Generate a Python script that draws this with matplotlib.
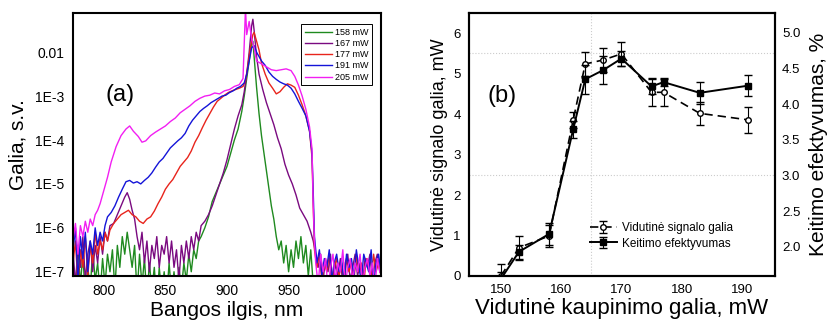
import numpy as np
import matplotlib
matplotlib.use("Agg")
import matplotlib.pyplot as plt

plt.rcParams['font.family'] = ['Liberation Sans', 'DejaVu Sans']

# ---------------- (a) spectra: wavelength (nm) and log10(power, a.u.) ----------------
wl_158 = [775, 777, 779, 781, 783, 785, 787, 789, 791, 793, 795, 797, 799, 801, 803, 805, 807, 809, 811, 813,
          815, 817, 819, 821, 823, 825, 827, 829, 831, 833, 835, 837, 839, 841, 843, 845, 847, 849, 851, 853,
          855, 857, 859, 861, 863, 865, 867, 869, 871, 873, 875, 877, 879, 882, 885, 888, 891, 894, 897, 900,
          903, 906, 909, 912, 914, 916, 918, 920, 921, 922, 924, 926, 928, 930, 932, 934, 936, 938, 940, 942,
          944, 946, 948, 950, 952, 954, 956, 958, 960, 962, 964, 966, 968, 970, 972, 975, 980, 990, 1000, 1010, 1025]
lg_158 = [-6.8, -7.5, -6.4, -7.3, -6.6, -7.6, -6.9, -7.4, -6.5, -7.2, -6.8, -7.5, -6.7, -7.3, -6.6, -7.0, -6.5, -7.4, -6.4, -6.9,
          -6.2, -6.6, -6.1, -6.5, -6.9, -6.4, -7.5, -6.6, -7.3, -6.7, -7.6, -6.8, -7.4, -6.9, -7.7, -6.9, -7.5, -7.0, -7.6, -6.8,
          -7.5, -7.0, -7.6, -6.9, -7.4, -6.8, -7.2, -6.6, -7.0, -6.5, -6.7, -6.3, -6.2, -6.0, -5.75, -5.4, -5.2, -5.0, -4.8, -4.6,
          -4.3, -4.0, -3.75, -3.35, -3.0, -2.6, -2.2, -1.8, -1.75, -2.1, -2.8, -3.4, -3.9, -4.3, -4.7, -5.1, -5.5, -5.8, -6.2, -6.5,
          -6.3, -6.8, -6.4, -7.0, -6.5, -6.9, -6.3, -6.7, -6.2, -6.8, -6.4, -7.1, -6.5, -7.3, -7.6, -7.4, -7.7, -7.6, -7.7, -7.6, -7.7]

wl_167 = [775, 777, 779, 781, 783, 785, 787, 789, 791, 793, 795, 797, 799, 801, 803, 805, 808, 811, 814, 817,
          819, 821, 823, 825, 827, 829, 831, 833, 835, 837, 839, 841, 843, 845, 847, 849, 851, 853, 855, 857,
          859, 861, 863, 865, 867, 869, 871, 873, 875, 877, 879, 882, 885, 888, 891, 894, 897, 900, 903, 906,
          909, 912, 914, 916, 918, 920, 921, 922, 924, 926, 929, 932, 935, 938, 941, 944, 947, 950, 953, 956,
          959, 962, 965, 968, 970, 972, 974, 976, 978, 980, 982, 984, 986, 988, 990, 992, 994, 996, 998, 1000,
          1002, 1004, 1006, 1008, 1010, 1012, 1014, 1016, 1018, 1020, 1022, 1024]
lg_167 = [-6.5, -7.3, -6.4, -6.9, -6.2, -7.2, -6.6, -6.3, -7.0, -6.4, -6.8, -6.2, -6.6, -6.1, -6.3, -5.95, -5.9, -5.7, -5.5, -5.3,
          -5.2, -5.35, -5.6, -5.8, -6.2, -6.5, -6.1, -6.8, -6.3, -7.0, -6.4, -6.7, -6.2, -6.9, -6.4, -6.6, -6.2, -6.8, -6.3, -6.9,
          -6.5, -7.2, -6.4, -6.8, -6.3, -6.7, -6.2, -6.5, -6.1, -6.3, -5.95, -5.85, -5.7, -5.5, -5.25, -5.0, -4.75, -4.45, -4.1, -3.75,
          -3.45, -3.2, -2.9, -2.5, -2.0, -1.4, -1.25, -1.5, -2.1, -2.5, -2.85, -3.15, -3.4, -3.65, -3.95, -4.2, -4.55, -4.8, -5.0, -5.25,
          -5.55, -5.7, -5.85, -6.1, -6.3, -6.6, -6.9, -6.6, -7.2, -6.7, -7.0, -6.6, -7.4, -6.8, -7.1, -6.7, -7.3, -6.8, -6.6, -7.2,
          -6.9, -6.6, -7.1, -6.8, -7.3, -6.7, -6.9, -6.6, -7.2, -6.8, -6.6, -7.0]

wl_177 = [775, 777, 779, 781, 783, 785, 787, 789, 791, 793, 795, 797, 799, 801, 803, 805, 808, 811, 814, 817,
          820, 823, 826, 829, 832, 835, 838, 841, 844, 847, 850, 853, 856, 859, 862, 865, 868, 871, 874, 877,
          880, 883, 886, 889, 892, 895, 898, 901, 904, 907, 910, 913, 915, 917, 919, 921, 922, 924, 926, 928,
          931, 934, 937, 940, 943, 946, 949, 952, 955, 958, 961, 964, 967, 969, 970, 971, 973, 975, 977, 979,
          981, 983, 985, 987, 989, 991, 993, 995, 997, 999, 1001, 1003, 1005, 1007, 1009, 1011, 1013, 1015, 1017, 1019,
          1021, 1023, 1025]
lg_177 = [-6.8, -6.3, -7.3, -6.5, -6.9, -6.2, -7.1, -6.4, -6.8, -6.1, -6.6, -6.3, -6.5, -6.1, -6.3, -6.05, -5.9, -5.8, -5.7, -5.65,
          -5.6, -5.7, -5.75, -5.85, -5.9, -5.8, -5.75, -5.62, -5.45, -5.3, -5.12, -5.0, -4.9, -4.75, -4.6, -4.5, -4.4, -4.25, -4.05, -3.9,
          -3.72, -3.55, -3.4, -3.25, -3.12, -3.05, -2.98, -2.92, -2.88, -2.85, -2.82, -2.78, -2.65, -2.3, -1.9, -1.6, -1.55, -1.75, -1.95, -2.25,
          -2.5, -2.7, -2.82, -2.95, -2.9, -2.8, -2.72, -2.75, -2.8, -2.98, -3.2, -3.45, -3.8, -4.4, -5.5, -6.5, -6.9, -6.6, -7.2, -6.8,
          -7.0, -6.6, -7.3, -6.9, -6.7, -7.1, -6.8, -7.4, -6.7, -7.0, -6.8, -7.2, -6.6, -7.0, -6.8, -7.3, -6.7, -6.9, -7.2, -6.6,
          -7.0, -6.8, -7.1]

wl_191 = [775, 777, 779, 781, 783, 785, 787, 789, 791, 793, 795, 797, 799, 801, 803, 806, 809, 812, 815, 818,
          821, 824, 827, 830, 833, 836, 839, 842, 845, 848, 851, 854, 857, 860, 863, 866, 869, 872, 875, 878,
          881, 884, 887, 890, 893, 896, 899, 902, 905, 908, 911, 914, 916, 918, 920, 922, 924, 926, 928, 931,
          934, 937, 940, 943, 946, 949, 952, 955, 958, 961, 964, 967, 969, 970, 971, 973, 975, 977, 979, 981,
          983, 985, 987, 989, 991, 993, 995, 997, 999, 1001, 1003, 1005, 1007, 1009, 1011, 1013, 1015, 1017, 1019, 1021,
          1023, 1025]
lg_191 = [-6.5, -6.0, -7.2, -6.2, -6.7, -6.1, -7.0, -6.3, -6.6, -6.0, -6.4, -6.1, -6.3, -5.95, -5.75, -5.65, -5.5, -5.3, -5.12, -4.95,
          -4.92, -4.98, -4.95, -5.0, -4.92, -4.85, -4.75, -4.62, -4.5, -4.42, -4.3, -4.18, -4.1, -4.02, -3.95, -3.85, -3.68, -3.55, -3.45, -3.35,
          -3.28, -3.22, -3.15, -3.1, -3.05, -3.0, -2.98, -2.92, -2.88, -2.82, -2.78, -2.7, -2.5, -2.2, -1.9, -1.85, -2.0, -2.1, -2.2, -2.3,
          -2.45, -2.55, -2.62, -2.68, -2.72, -2.75, -2.82, -2.95, -3.12, -3.28, -3.45, -3.8, -4.3, -5.2, -6.2, -6.8, -6.5, -7.1, -6.7, -6.9,
          -6.5, -7.2, -6.8, -6.6, -7.0, -6.7, -7.3, -6.6, -6.9, -6.7, -7.1, -6.5, -6.9, -7.2, -6.6, -6.8, -7.0, -6.5, -7.3, -6.8,
          -6.6, -7.0]

wl_205 = [775, 777, 779, 781, 783, 785, 787, 789, 791, 793, 795, 797, 800, 803, 806, 810, 814, 818, 821, 824,
          828, 831, 834, 838, 842, 846, 850, 854, 858, 862, 866, 870, 874, 878, 882, 886, 890, 894, 898, 902,
          906, 910, 913, 915, 916, 918, 920, 922, 924, 927, 930, 933, 936, 940, 944, 948, 952, 955, 958, 961,
          964, 967, 969, 970, 971, 972, 974, 976, 978, 980, 982, 984, 986, 988, 990, 992, 994, 996, 998, 1000,
          1002, 1004, 1006, 1008, 1010, 1012, 1014, 1016, 1018, 1020, 1022, 1024]
lg_205 = [-6.3, -5.9, -6.6, -5.95, -6.2, -5.85, -6.1, -5.8, -5.95, -5.7, -5.6, -5.45, -5.15, -4.85, -4.5, -4.15, -3.9, -3.75, -3.68, -3.8,
          -3.92, -4.05, -4.02, -3.9, -3.82, -3.75, -3.68, -3.58, -3.5, -3.38, -3.3, -3.22, -3.12, -3.05, -3.0, -2.98, -2.93, -2.95, -2.88, -2.85,
          -2.78, -2.74, -2.6, -1.0, -1.6, -1.3, -1.7, -1.9, -2.2, -2.25, -2.3, -2.35, -2.4, -2.42, -2.4, -2.38, -2.42, -2.55, -2.75, -3.0,
          -3.3, -3.7, -4.2, -5.5, -6.3, -6.8, -7.3, -6.6, -7.0, -6.7, -7.4, -6.9, -6.6, -7.2, -6.8, -7.0, -6.5, -7.3, -6.9, -6.7,
          -7.2, -6.8, -7.0, -6.6, -7.3, -6.9, -6.7, -7.1, -6.8, -7.4, -6.7, -7.0]

spectra_labels = ['158 mW', '167 mW', '177 mW', '191 mW', '205 mW']
spectra_colors = ['#1f8a1f', '#7a0a80', '#e8241c', '#1414d8', '#f21ff2']

# ---------------- (b) ----------------
pump = [150, 153, 158, 162, 164, 167, 170, 175, 177, 183, 191]
signal = [0.0, 0.70, 0.99, 3.86, 5.24, 5.34, 5.49, 4.54, 4.54, 4.02, 3.86]
signal_err = [0.3, 0.3, 0.28, 0.2, 0.3, 0.3, 0.3, 0.35, 0.35, 0.28, 0.32]
efficiency = [1.55, 1.93, 2.18, 3.65, 4.35, 4.48, 4.64, 4.25, 4.31, 4.16, 4.26]
efficiency_err = [0.1, 0.1, 0.15, 0.12, 0.2, 0.2, 0.1, 0.1, 0.05, 0.15, 0.15]

W, H = 829, 326
fig = plt.figure(figsize=(W / 100, H / 100), dpi=100)

def box(x0, y0, x1, y1):
    return [x0 / W, 1 - y1 / H, (x1 - x0) / W, (y1 - y0) / H]

# ---- panel (a)
ax1 = fig.add_axes(box(73, 13, 381, 276))
series = [(wl_158, lg_158), (wl_167, lg_167), (wl_177, lg_177), (wl_191, lg_191), (wl_205, lg_205)]
for (wl, lg), lab, col in zip(series, spectra_labels, spectra_colors):
    ax1.plot(wl, 10 ** np.array(lg), color=col, lw=1.0, label=lab)
ax1.set_yscale('log')
ax1.set_xlim(775, 1025)
ax1.set_ylim(8e-8, 0.078)
ax1.set_xticks([800, 850, 900, 950, 1000])
ax1.set_yticks([1e-7, 1e-6, 1e-5, 1e-4, 1e-3, 1e-2])
ax1.set_yticklabels(['1E-7', '1E-6', '1E-5', '1E-4', '1E-3', '0.01'])
ax1.minorticks_off()
ax1.tick_params(length=0, labelsize=10, pad=6)
ax1.set_xlabel('Bangos ilgis, nm', fontsize=15, labelpad=2)
ax1.set_ylabel('Galia, s.v.', fontsize=15, labelpad=6)
for s in ax1.spines.values():
    s.set_linewidth(1.5)
ax1.text(813, 1.07e-3, '(a)', fontsize=17, ha='center', va='center')
leg = ax1.legend(loc='upper right', bbox_to_anchor=(0.985, 0.975), fontsize=6.5, handlelength=3,
                 handletextpad=0.3, labelspacing=0.25, borderpad=0.4, fancybox=False, framealpha=1)
leg.get_frame().set_edgecolor('black')
leg.get_frame().set_linewidth(0.7)

# ---- panel (b)
ax2 = fig.add_axes(box(469, 13, 775, 276))
ax2.axhline(2.5, color='#cccccc', ls=':', lw=0.8, zorder=0)
ax2.axhline(5.5, color='#cccccc', ls=':', lw=0.8, zorder=0)
ax2.axvline(165, color='#cccccc', ls=':', lw=0.8, zorder=0)
h1 = ax2.errorbar(pump, signal, yerr=signal_err, fmt='o', ls=(0, (5, 3)), color='black', mfc='white',
                  mec='black', ms=4, lw=1.2, elinewidth=0.8, capsize=3, label='Vidutinė signalo galia')
ax2.set_xlim(144.7, 195.5)
ax2.set_ylim(0, 6.5)
ax2.set_xticks([150, 160, 170, 180, 190])
ax2.set_yticks([0, 1, 2, 3, 4, 5, 6])
ax2.tick_params(length=0, labelsize=9.5, pad=6)
ax2.set_xlabel('Vidutinė kaupinimo galia, mW', fontsize=16, labelpad=1)
ax2.set_ylabel('Vidutinė signalo galia, mW', fontsize=13, labelpad=4)
for s in ax2.spines.values():
    s.set_linewidth(1.5)

ax3 = ax2.twinx()
h2 = ax3.errorbar(pump, efficiency, yerr=efficiency_err, fmt='s-', color='black', ms=4, lw=1.4,
                  elinewidth=0.8, capsize=3, label='Keitimo efektyvumas')
ax3.set_ylim(1.59, 5.28)
ax3.set_yticks([2.0, 2.5, 3.0, 3.5, 4.0, 4.5, 5.0])
ax3.set_yticklabels(['2.0', '2.5', '3.0', '3.5', '4.0', '4.5', '5.0'])
ax3.tick_params(length=0, labelsize=9.5, pad=5)
ax3.set_ylabel('Keitimo efektyvumas, %', fontsize=15, labelpad=6)
for s in ax3.spines.values():
    s.set_linewidth(1.5)
ax2.text(150.2, 4.46, '(b)', fontsize=17, ha='center', va='center')
ax3.legend([h1, h2], ['Vidutinė signalo galia', 'Keitimo efektyvumas'], loc='lower left',
           bbox_to_anchor=(0.36, 0.06), frameon=False, fontsize=8.5, handlelength=2.3,
           handletextpad=0.4, labelspacing=0.3)

fig.savefig('out.png', dpi=100)
